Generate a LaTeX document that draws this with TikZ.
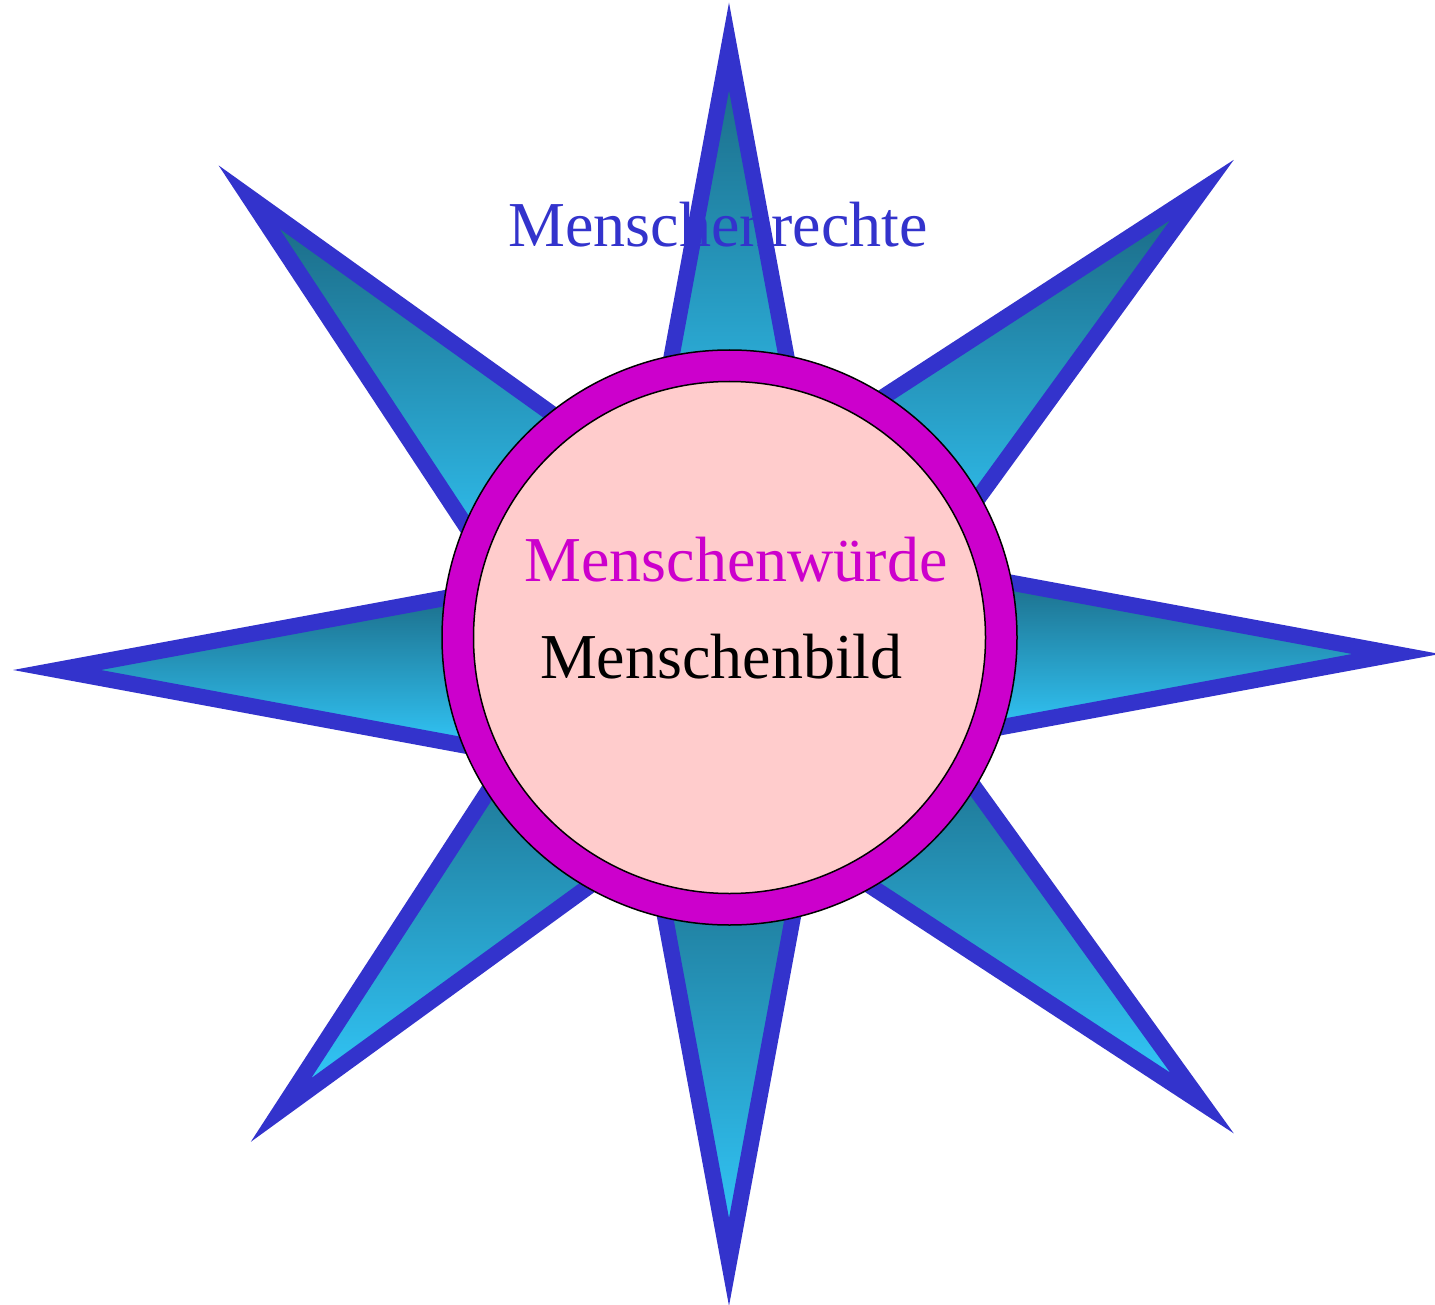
\documentclass[tikz,border=0pt]{standalone}
\usepackage{fontspec}
\setmainfont{Liberation Serif}
\usetikzlibrary{calc}
\definecolor{spikeblue}{HTML}{3333CC}
\definecolor{spikedark}{HTML}{1A6680}
\definecolor{spikelight}{HTML}{33CCFF}
\definecolor{ringmag}{HTML}{CC00CC}
\definecolor{innerpink}{HTML}{FFCCCC}
\tikzset{
  spikeshape/.style={draw=spikeblue, line width=16pt, line join=miter,
    top color=spikedark, bottom color=spikelight},
  bigtext/.style={font=\fontsize{64}{76}\selectfont, inner sep=0pt, outer sep=0pt, anchor=base west},
}
\newcommand{\myspike}[3]{%
  \draw[spikeshape] (#1,#2) -- ($(#1,#2)+(#3+10.5:488)$) -- ($(#1,#2)+(#3-10.5:488)$) -- cycle;}
\begin{document}
\begin{tikzpicture}[x=1pt,y=-1pt]
\useasboundingbox (0,0) rectangle (1435,1305);
% spikes
\myspike{729}{46.5}{90}
\myspike{1202}{190}{136.5}
\myspike{1396}{654}{180}
\myspike{1202}{1103}{223.7}
\myspike{729}{1262}{270}
\myspike{281}{1110}{313.5}
\myspike{57}{670}{0}
\myspike{249}{197}{46.1}
% title
\node[bigtext, text=spikeblue] (rechte) at (508.5,247) {Menschenrechte};
% central disc
\coordinate (c) at (729.5,637.5);
\fill[ringmag] (c) circle[radius=287.5];
\draw[black, line width=1.5pt] (c) circle[radius=287.5];
\fill[innerpink] (c) circle[radius=256];
\draw[black, line width=1.5pt] (c) circle[radius=256];
\node[bigtext, text=ringmag] (wuerde) at (524.5,581) {Menschenwürde};
\node[bigtext, text=black] (bild) at (540,678) {Menschenbild};
\end{tikzpicture}
\end{document}
